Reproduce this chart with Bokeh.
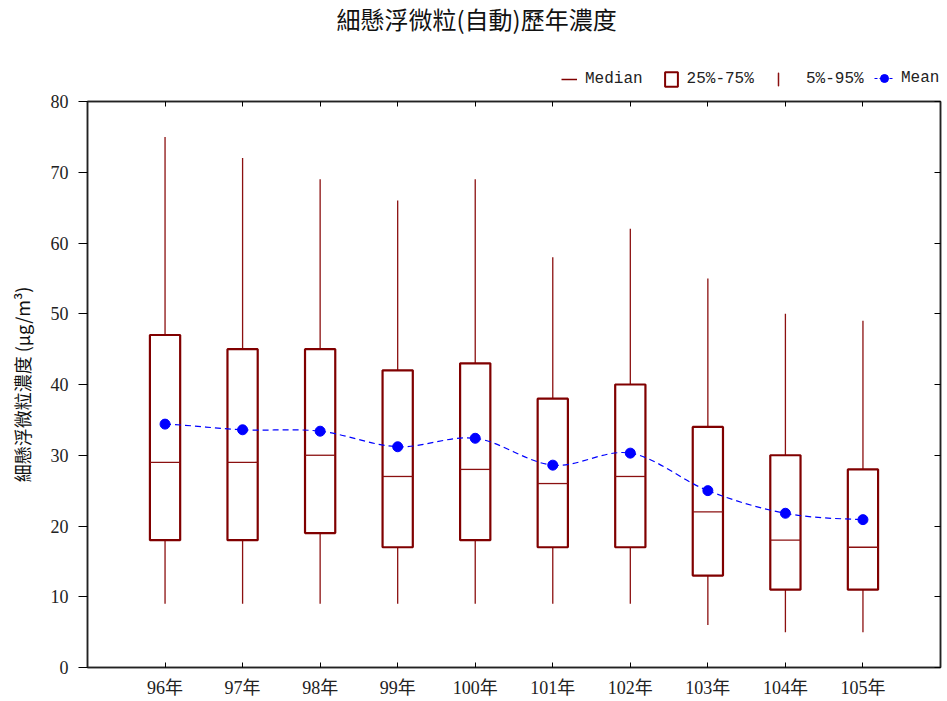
from bokeh.plotting import figure
from bokeh.models import (FactorRange, Range1d, ColumnDataSource, LinearAxis, CategoricalAxis,
                          FixedTicker, Legend, LegendItem)
from bokeh.layouts import column
from bokeh.transform import dodge
from bokeh.embed import file_html
from bokeh.resources import INLINE

# ---- data ----
years = ["96年", "97年", "98年", "99年", "100年", "101年", "102年", "103年", "104年", "105年"]
p05 = [9, 9, 9, 9, 9, 9, 9, 6, 5, 5]
q25 = [18, 18, 19, 17, 18, 17, 17, 13, 11, 11]
median = [29, 29, 30, 27, 28, 26, 27, 22, 18, 17]
q75 = [47, 45, 45, 42, 43, 38, 40, 34, 30, 28]
p95 = [75, 72, 69, 66, 69, 58, 62, 55, 50, 49]
mean = [34.4, 33.6, 33.4, 31.2, 32.4, 28.6, 30.3, 25.0, 21.8, 20.9]
y_ticks = [0, 10, 20, 30, 40, 50, 60, 70, 80]
legend_labels = ["Median", "25%-75%", "5%-95%", "Mean"]

title_text = "細懸浮微粒(自動)歷年濃度"
y_label = "細懸浮微粒濃度 (μg/m³)"

BOX_C = "#800000"
WHISK_C = "#8B1010"
SERIF = "Liberation Serif, Noto Sans CJK TC"
CJK = "Noto Sans CJK TC"
MONO = "Liberation Mono"
W = 947
HEAD_H = 88
MAIN_H = 701 - HEAD_H

# ---------- header: title + legend ----------
head = figure(width=W, height=HEAD_H, output_backend="svg", toolbar_location=None,
              x_range=Range1d(0, 1), y_range=Range1d(0, 1), min_border=0,
              x_axis_location=None, y_axis_location=None)
head.grid.visible = False
head.outline_line_color = None
head.border_fill_color = "white"
head.title.text = title_text
head.title.align = "left"
head.title.vertical_align = "top"
head.title.offset = 249
head.title.text_font = CJK
head.title.text_font_size = "24px"
head.title.text_font_style = "normal"
head.title.text_color = "#111111"
head.title.standoff = 0

# renderers that only carry the legend glyph styles (never shown in the header area)
dummy = ColumnDataSource(dict(x=[0.0], y=[0.0], x1=[0.0], y1=[0.0]))
r_med = head.segment(x0="x", y0="y", x1="x1", y1="y1", source=dummy, line_color=BOX_C,
                     line_width=1.5, visible=False)
r_box = head.quad(left="x", right="x1", bottom="y", top="y1", source=dummy, fill_color="white",
                  line_color=BOX_C, line_width=2, visible=False)
off = ColumnDataSource(dict(x=[-10.0], y=[-10.0]))
r_wh = head.ellipse(x="x", y="y", width=0.01, height=12, width_units="screen",
                    height_units="screen", source=off, fill_color=None,
                    line_color=WHISK_C, line_width=1.5)
r_ml = head.line(x="x", y="y", source=dummy, line_color="blue", line_width=1.2, line_dash="3 2",
                 visible=False)
r_mp = head.scatter(x="x", y="y", source=dummy, marker="circle", fill_color="blue",
                    line_color="blue", visible=False)

common = dict(orientation="horizontal", border_line_color=None, background_fill_alpha=0,
              inactive_fill_alpha=0, padding=0, margin=0,
              label_text_font=MONO, label_text_font_size="16px", label_text_color="#222222")

leg_a = Legend(items=[LegendItem(label=legend_labels[0], renderers=[r_med]),
                      LegendItem(label=legend_labels[1], renderers=[r_box])],
               location=(474, 0), glyph_width=16, glyph_height=18, label_standoff=8,
               spacing=20, **common)
leg_b = Legend(items=[LegendItem(label=legend_labels[2], renderers=[r_wh])],
               location=(683, 0), glyph_width=16, glyph_height=18, label_standoff=20,
               **common)
leg_c = Legend(items=[LegendItem(label=legend_labels[3], renderers=[r_ml, r_mp])],
               location=(787, 0), glyph_width=20, glyph_height=20, label_standoff=7,
               **common)
for lg in (leg_a, leg_b, leg_c):
    head.add_layout(lg, "center")

# ---------- main plot ----------
p = figure(width=W, height=MAIN_H, output_backend="svg", toolbar_location=None,
           x_range=FactorRange(factors=years, range_padding=0.1),
           y_range=Range1d(0, 80),
           min_border_left=87, min_border_right=7, min_border_top=13, min_border_bottom=34,
           x_axis_location=None, y_axis_location=None)
p.grid.visible = False
p.outline_line_color = "#222222"
p.outline_line_width = 1.5
p.background_fill_color = "white"
p.border_fill_color = "white"

src = ColumnDataSource(dict(x=years, p05=p05, q25=q25, med=median, q75=q75, p95=p95, mean=mean))

# whiskers
p.segment(x0="x", y0="p05", x1="x", y1="q25", source=src, line_color=WHISK_C, line_width=1.3)
p.segment(x0="x", y0="q75", x1="x", y1="p95", source=src, line_color=WHISK_C, line_width=1.3)
# boxes
bw = 0.39
p.vbar(x="x", bottom="q25", top="q75", width=bw, source=src, fill_color="white",
       line_color=BOX_C, line_width=2.2)
# median
p.segment(x0=dodge("x", -bw / 2, range=p.x_range), y0="med",
          x1=dodge("x", bw / 2, range=p.x_range), y1="med",
          source=src, line_color=WHISK_C, line_width=1.3)

# mean curve: cubic bezier segments through the mean points (Catmull-Rom tangents)
n = len(mean)
bx0, bx1, by0, by1, cy0, cy1 = [], [], [], [], [], []
for i in range(n - 1):
    ym1 = mean[i - 1] if i > 0 else mean[i]
    yp2 = mean[i + 2] if i + 2 < n else mean[i + 1]
    bx0.append(years[i]); bx1.append(years[i + 1])
    by0.append(mean[i]); by1.append(mean[i + 1])
    cy0.append(mean[i] + (mean[i + 1] - ym1) / 6.0)
    cy1.append(mean[i + 1] - (yp2 - mean[i]) / 6.0)
bsrc = ColumnDataSource(dict(x0=bx0, x1=bx1, y0=by0, y1=by1, cy0=cy0, cy1=cy1))
p.bezier(x0="x0", y0="y0", x1="x1", y1="y1",
         cx0=dodge("x0", 1 / 3, range=p.x_range), cy0="cy0",
         cx1=dodge("x1", -1 / 3, range=p.x_range), cy1="cy1",
         source=bsrc, line_color="blue", line_width=1.2, line_dash="6 4")
p.scatter(x="x", y="mean", source=src, marker="circle", size=10, fill_color="blue",
          line_color="blue")

# axes
left = LinearAxis(ticker=FixedTicker(ticks=y_ticks), axis_label=y_label)
left.major_tick_in = 0
left.major_tick_out = 9
left.minor_tick_line_color = None
left.major_label_standoff = 10
left.major_label_text_font = SERIF
left.major_label_text_font_size = "18px"
left.major_label_text_color = "#222222"
left.axis_label_text_font = CJK
left.axis_label_text_font_style = "normal"
left.axis_label_text_font_size = "18px"
left.axis_label_text_color = "#111111"
left.axis_label_standoff = 13
left.axis_line_color = "#222222"
left.axis_line_width = 1.5
p.add_layout(left, "left")

right = LinearAxis(ticker=FixedTicker(ticks=y_ticks))
right.major_tick_in = 6
right.major_tick_out = 0
right.minor_tick_line_color = None
right.major_label_text_color = None
right.major_label_text_font_size = "5px"
right.major_label_standoff = 0
right.axis_line_color = "#222222"
right.axis_line_width = 1.5
p.add_layout(right, "right")

bottom = CategoricalAxis()
bottom.major_tick_in = 5
bottom.major_tick_out = 0
bottom.major_label_standoff = 10
bottom.major_label_text_font = SERIF
bottom.major_label_text_font_size = "18px"
bottom.major_label_text_color = "#222222"
bottom.axis_line_color = "#222222"
bottom.axis_line_width = 1.5
p.add_layout(bottom, "below")

top = CategoricalAxis()
top.major_tick_in = 5
top.major_tick_out = 0
top.major_label_text_color = None
top.major_label_text_font_size = "5px"
top.major_label_standoff = 0
top.axis_line_color = "#222222"
top.axis_line_width = 1.5
p.add_layout(top, "above")

layout = column(head, p, spacing=0)
open("out.html", "w").write(file_html(layout, INLINE))
